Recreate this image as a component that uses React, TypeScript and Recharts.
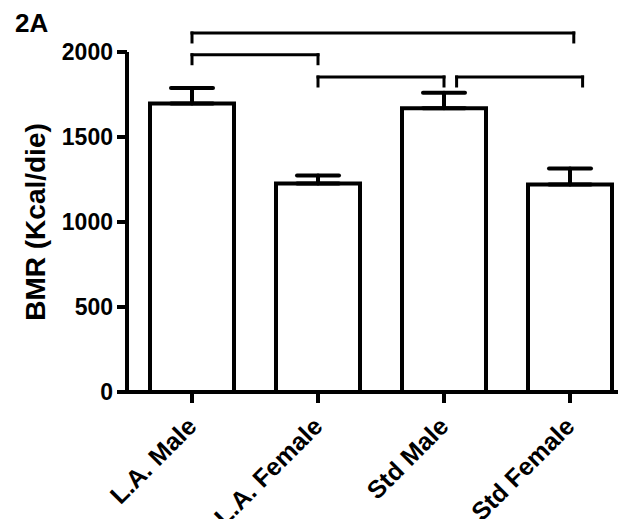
import { Bar, BarChart, ErrorBar, ReferenceLine, XAxis, YAxis } from 'recharts'

const categories = ['L.A. Male', 'L.A. Female', 'Std Male', 'Std Female']
const bmrMean = [1697, 1226, 1669, 1220]
const bmrSem = [91, 48, 92, 94]
const yTicks = [0, 500, 1000, 1500, 2000]

// significance brackets, x in category index units, y in Kcal/die
const bracketFrom = [0, 0, 1, 2.1]
const bracketTo = [3.03, 1, 2, 3.1]
const bracketLevel = [2112, 1984, 1853, 1853]
const bracketDrop = 53

const data = categories.map((name, i) => ({
    name,
    mean: bmrMean[i],
    err: [0, bmrSem[i]],
}))

const font = '"Liberation Sans", Arial, sans-serif'

const XTick = (props: any) => {
    const { x, y, payload } = props
    return (
        <g transform={`translate(${x + 6},${y + 25})`}>
            <text
                transform="rotate(-45)"
                textAnchor="end"
                fontSize={25}
                fontWeight="bold"
                fontFamily={font}
                fill="#000"
            >
                {payload.value}
            </text>
        </g>
    )
}

export default function App() {
    const lines: { x1: number; y1: number; x2: number; y2: number }[] = []
    bracketFrom.forEach((a, i) => {
        const b = bracketTo[i]
        const lv = bracketLevel[i]
        lines.push({ x1: a, y1: lv, x2: b, y2: lv })
        lines.push({ x1: a, y1: lv, x2: a, y2: lv - bracketDrop })
        lines.push({ x1: b, y1: lv, x2: b, y2: lv - bracketDrop })
    })

    return (
        <div style={{ position: 'relative', width: 626, height: 527, overflow: 'hidden', margin: -8, background: '#fff' }}>
            <div
                style={{
                    position: 'absolute',
                    left: 15,
                    top: 10,
                    fontFamily: font,
                    fontWeight: 'bold',
                    fontSize: 26,
                    lineHeight: 1,
                }}
            >
                2A
            </div>
            <BarChart width={633} height={527} data={data} margin={{ top: 52, right: 0, bottom: 0, left: 0 }}>
                <XAxis
                    dataKey="name"
                    height={135}
                    padding={{ left: 2, right: 0 }}
                    stroke="#000"
                    axisLine={{ stroke: '#000', strokeWidth: 4 }}
                    tickLine={{ stroke: '#000', strokeWidth: 4 }}
                    tickSize={11}
                    tickMargin={0}
                    tick={<XTick />}
                    interval={0}
                />
                <XAxis
                    xAxisId="num"
                    type="number"
                    domain={[0, 3]}
                    allowDataOverflow
                    padding={{ left: 65, right: 63 }}
                    hide
                />
                <YAxis
                    width={127}
                    domain={[0, 2000]}
                    ticks={yTicks}
                    interval={0}
                    stroke="#000"
                    axisLine={{ stroke: '#000', strokeWidth: 4 }}
                    tickLine={{ stroke: '#000', strokeWidth: 4 }}
                    tickSize={10}
                    tickMargin={4}
                    tick={{ fill: '#000', fontSize: 23, fontWeight: 'bold', fontFamily: font }}
                    label={{
                        value: 'BMR (Kcal/die)',
                        angle: -90,
                        position: 'insideLeft',
                        offset: 35,
                        style: { textAnchor: 'middle', fontSize: 28, fontWeight: 'bold', fontFamily: font, fill: '#000' },
                    }}
                />
                <Bar
                    dataKey="mean"
                    fill="#fff"
                    stroke="#000"
                    strokeWidth={4}
                    barSize={84}
                    isAnimationActive={false}
                >
                    <ErrorBar
                        dataKey="err"
                        direction="y"
                        width={21}
                        stroke="#000"
                        strokeWidth={4}
                        strokeLinecap="round"
                        isAnimationActive={false}
                    />
                </Bar>
                {lines.map((l, i) => (
                    <ReferenceLine
                        key={i}
                        xAxisId="num"
                        segment={[
                            { x: l.x1, y: l.y1 },
                            { x: l.x2, y: l.y2 },
                        ]}
                        stroke="#000"
                        strokeWidth={3}
                        strokeLinecap="square"
                        ifOverflow="visible"
                    />
                ))}
            </BarChart>
        </div>
    )
}
